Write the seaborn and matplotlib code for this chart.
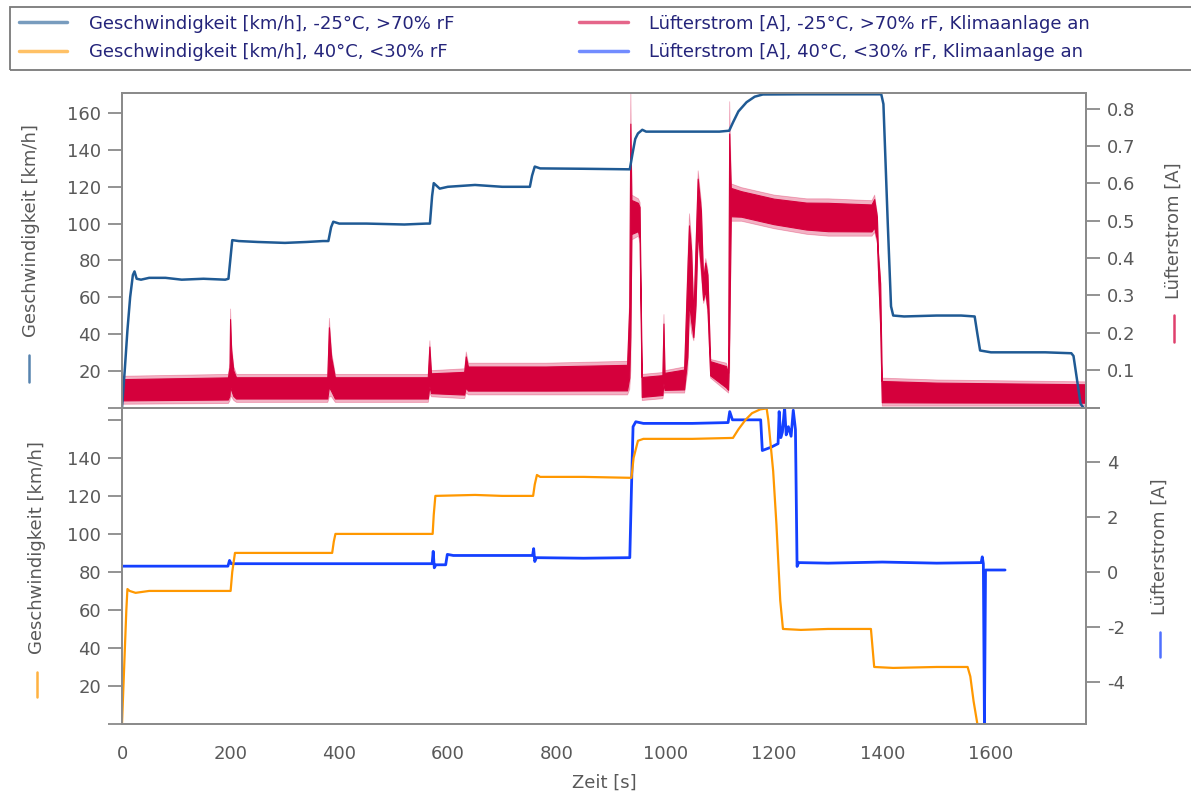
import seaborn as sns
import matplotlib.pyplot as plt
from matplotlib.lines import Line2D
from matplotlib.patches import Rectangle

# ---- Werte ----
# oben: -25°C, >70% rF, Klimaanlage an
zeit_v_kalt = [0, 5, 10, 15, 20, 23, 27, 35, 50, 80, 110, 150, 190, 196, 200, 203, 215, 250, 300,
               340, 370, 380, 385, 389, 400, 450, 520, 560, 567, 571, 574, 585, 600, 650, 700, 751,
               755, 760, 770, 850, 935, 940, 945, 950, 958, 965, 1000, 1050, 1100, 1118, 1125, 1135,
               1150, 1165, 1180, 1250, 1300, 1398, 1402, 1410, 1416, 1420, 1440, 1500, 1545, 1570,
               1575, 1580, 1600, 1650, 1700, 1748, 1752, 1760, 1765, 1770]
v_kalt = [0, 20, 42, 60, 72, 74, 70, 69.5, 70.5, 70.5, 69.5, 70, 69.5, 70, 82, 91, 90.5, 90, 89.5,
          90, 90.5, 90.5, 98, 101, 100, 100, 99.5, 100, 100, 115, 122, 119, 120, 121, 120, 120,
          126, 131, 130, 129.8, 129.5, 138, 146, 149, 151, 150, 150, 150, 150, 150.5, 155, 161,
          166, 169, 170.2, 170.3, 170.3, 170.3, 165, 100, 55, 50, 49.5, 50, 50, 49.5,
          40, 31, 30, 30, 30, 29.5, 28, 12, 2, 0]

# Lüfterstrom oben: stark verrauscht -> untere/obere Hüllkurve
zeit_i_kalt = [0, 195, 198, 199, 201, 205, 210, 378, 381, 385, 392, 563, 566, 569, 630, 633, 637,
               780, 930, 934, 936, 938, 950, 953, 957, 995, 997, 999, 1035, 1041, 1044, 1048, 1052,
               1056, 1060, 1066, 1070, 1074, 1078, 1083, 1112, 1116, 1118, 1121, 1140, 1200, 1260,
               1300, 1380, 1385, 1390, 1392, 1396, 1399, 1500, 1775]
i_kalt_min = [0.01, 0.012, 0.02, 0.03, 0.03, 0.02, 0.015, 0.015, 0.03, 0.03, 0.015, 0.015, 0.04, 0.03,
              0.025, 0.04, 0.035, 0.035, 0.035, 0.05, 0.10, 0.45, 0.46, 0.44, 0.02, 0.025, 0.04, 0.04,
              0.04, 0.10, 0.25, 0.20, 0.18, 0.25, 0.45, 0.35, 0.28, 0.30, 0.25, 0.08, 0.045, 0.04,
              0.10, 0.50, 0.50, 0.48, 0.465, 0.46, 0.46, 0.47, 0.44, 0.36, 0.20, 0.005, 0.005, 0.005]
i_kalt_max = [0.085, 0.09, 0.12, 0.265, 0.17, 0.11, 0.09, 0.09, 0.24, 0.15, 0.09, 0.09, 0.18,
              0.10, 0.105, 0.15, 0.12, 0.12, 0.125, 0.30, 0.85, 0.57, 0.56, 0.55, 0.09, 0.095, 0.25,
              0.10, 0.11, 0.40, 0.52, 0.45, 0.25, 0.45, 0.635, 0.55, 0.35, 0.40, 0.37, 0.13, 0.12,
              0.10, 0.82, 0.60, 0.59, 0.57, 0.56, 0.56, 0.555, 0.57, 0.52, 0.42, 0.35, 0.08, 0.075,
              0.07]

# unten: 40°C, <30% rF, Klimaanlage an
zeit_v_heiss = [0, 4, 8, 10, 14, 25, 50, 100, 150, 200, 203, 208, 250, 300, 387, 390, 393, 450, 520,
                572, 574, 577, 650, 700, 757, 760, 764, 770, 850, 938, 942, 950, 960, 1000, 1050,
                1125, 1135, 1148, 1160, 1175, 1187, 1190, 1195, 1199, 1205, 1212, 1217, 1250, 1300,
                1379, 1382, 1385, 1420, 1500, 1557, 1562, 1568, 1575]
v_heiss = [0, 30, 60, 71, 70, 69, 70, 70, 70, 70, 80, 90, 90, 90, 90, 96, 100, 100, 100,
           100, 110, 120, 120.5, 120, 120, 126, 131, 130, 130, 129.5, 140, 149, 150, 150, 150,
           150.5, 155, 160, 163.5, 165.5, 166, 160, 145, 133, 105, 65, 50, 49.5, 50,
           50, 40, 30, 29.5, 30, 30, 25, 12, 0]

zeit_i_heiss = [0, 195, 198, 201, 250, 400, 571, 573, 575, 578, 596, 599, 610, 700, 756, 758, 760,
                763, 850, 935, 938, 941, 946, 960, 1050, 1116, 1119, 1124, 1176, 1179, 1195, 1208,
                1210, 1213, 1216, 1220, 1223, 1227, 1232, 1236, 1240, 1243, 1246, 1300, 1400, 1500,
                1582, 1584, 1586, 1588, 1590, 1626]
i_heiss = [0.21, 0.21, 0.42, 0.30, 0.30, 0.30, 0.30, 0.75, 0.15, 0.26, 0.26, 0.64, 0.60, 0.60,
           0.60, 0.85, 0.38, 0.52, 0.50, 0.52, 3.0, 5.3, 5.48, 5.42, 5.42, 5.45, 5.85, 5.55,
           5.55, 4.43, 4.55, 4.68, 5.85, 4.9, 5.1, 6.0, 5.0, 5.3, 4.95, 5.9, 5.2, 0.2, 0.34,
           0.32, 0.36, 0.32, 0.34, 0.55, 0.30, -5.6, 0.07, 0.07]

x_ticks = [0, 200, 400, 600, 800, 1000, 1200, 1400, 1600]
v_ticks = [0, 20, 40, 60, 80, 100, 120, 140, 160]
i_ticks_oben = [0, 0.1, 0.2, 0.3, 0.4, 0.5, 0.6, 0.7, 0.8]
i_ticks_unten = [-4, -2, 0, 2, 4, 6]

legende = ["Geschwindigkeit [km/h], -25°C, >70% rF",
           "Geschwindigkeit [km/h], 40°C, <30% rF",
           "Lüfterstrom [A], -25°C, >70% rF, Klimaanlage an",
           "Lüfterstrom [A], 40°C, <30% rF, Klimaanlage an"]

# Farben
c_v_kalt = "#1f5a94"
c_i_kalt = "#d5003c"
c_v_heiss = "#ff9800"
c_i_heiss = "#1440ff"
grau = "#8a8a8a"
text_grau = "#595959"

sns.set_style("white")
plt.rcParams['font.family'] = ['DejaVu Sans']
plt.rcParams['font.size'] = 13

W, H = 1191, 794
fig = plt.figure(figsize=(W / 100, H / 100), dpi=100)


def fx(px):
    return px / W


def fy(py):
    return 1 - py / H


links, rechts = 122, 1086
ax_o = fig.add_axes([fx(links), fy(407.5), fx(rechts) - fx(links), (407.5 - 93) / H])
ax_u = fig.add_axes([fx(links), fy(724), fx(rechts) - fx(links), (724 - 407.5) / H], sharex=ax_o)
ax_o2 = ax_o.twinx()
ax_u2 = ax_u.twinx()

# Geschwindigkeit vor dem Strom zeichnen
for a, a2 in [(ax_o, ax_o2), (ax_u, ax_u2)]:
    a.set_zorder(a2.get_zorder() + 1)
    a.patch.set_visible(False)

sns.lineplot(x=zeit_v_kalt, y=v_kalt, ax=ax_o, color=c_v_kalt, lw=1.8,
             sort=False, estimator=None, legend=False)

# Rauschband: aussen blass, Kern kräftig
ax_o2.fill_between(zeit_i_kalt, i_kalt_min, i_kalt_max, color=c_i_kalt, lw=0.6,
                   edgecolor=c_i_kalt, alpha=0.3)
kern_min = [lo + 0.12 * (hi - lo) for lo, hi in zip(i_kalt_min, i_kalt_max)]
kern_max = [hi - 0.12 * (hi - lo) for lo, hi in zip(i_kalt_min, i_kalt_max)]
ax_o2.fill_between(zeit_i_kalt, kern_min, kern_max, color=c_i_kalt, lw=0.8,
                   edgecolor=c_i_kalt)

sns.lineplot(x=zeit_v_heiss, y=v_heiss, ax=ax_u, color=c_v_heiss, lw=1.6,
             sort=False, estimator=None, legend=False)
sns.lineplot(x=zeit_i_heiss, y=i_heiss, ax=ax_u2, color=c_i_heiss, lw=2.0,
             sort=False, estimator=None, legend=False)

ax_o.set_xlim(0, 1775)
ax_o.set_ylim(0, 171)
ax_o2.set_ylim(0, 0.842)
ax_u.set_ylim(0, 166.5)
ax_u2.set_ylim(-5.55, 6.0)

ax_o.set_yticks(v_ticks)
ax_o.set_yticklabels([""] + [str(v) for v in v_ticks[1:]])
ax_o2.set_yticks(i_ticks_oben)
ax_o2.set_yticklabels([""] + [f"{v:.1f}" for v in i_ticks_oben[1:]])
ax_u.set_yticks(v_ticks)
ax_u.set_yticklabels([""] + [str(v) for v in v_ticks[1:-1]] + [""])
ax_u2.set_yticks(i_ticks_unten)
ax_u2.set_yticklabels([str(v) for v in i_ticks_unten[:-1]] + [""])
ax_u.set_xticks(x_ticks)
ax_u.set_xticklabels([str(v) for v in x_ticks])

ax_o.tick_params(axis='x', bottom=False, labelbottom=False)
for a in [ax_o, ax_o2, ax_u, ax_u2]:
    a.set_xlabel("")
    a.set_ylabel("")
    for s in a.spines.values():
        s.set_color(grau)
        s.set_linewidth(1.3)
    a.tick_params(axis='both', direction='out', length=10, width=1.3, color=grau,
                  labelcolor=text_grau, labelsize=13, pad=5)

ax_u.set_xlabel("Zeit [s]", color=text_grau, fontsize=13, labelpad=8)

# Achsenbeschriftungen mit kleinem Farbstrich
beschriftungen = [
    ("Geschwindigkeit [km/h]", 31, 231, 29, 355, 382, c_v_kalt),
    ("Lüfterstrom [A]", 1174, 231, 1174, 315, 342, c_i_kalt),
    ("Geschwindigkeit [km/h]", 37, 548, 37, 672, 697, c_v_heiss),
    ("Lüfterstrom [A]", 1160, 547, 1160, 632, 657, c_i_heiss),
]
for txt, tx, ty, lx, ly0, ly1, col in beschriftungen:
    fig.text(fx(tx), fy(ty), txt, rotation=90, ha='center', va='center',
             color=text_grau, fontsize=13)
    fig.add_artist(Line2D([fx(lx), fx(lx)], [fy(ly0), fy(ly1)], color=col,
                          lw=1.8, alpha=0.75, transform=fig.transFigure))

# Legende oben im Rahmen
fig.add_artist(Rectangle((fx(10), fy(70)), fx(1200) - fx(10), fy(7) - fy(70),
                         transform=fig.transFigure, fill=False, edgecolor="#7a7a7a", lw=1.3))
griffe = [Line2D([], [], color=c, lw=2.5, alpha=0.6)
          for c in [c_v_kalt, c_v_heiss, c_i_kalt, c_i_heiss]]
fig.legend(griffe, legende, loc='upper left', bbox_to_anchor=(fx(15), fy(11)), ncol=2,
           frameon=False, fontsize=13, handlelength=2.7, handletextpad=1.2,
           columnspacing=6.9, labelspacing=0.57, borderaxespad=0, borderpad=0.2,
           labelcolor="#24247a")

fig.savefig("out.png", dpi=100)
